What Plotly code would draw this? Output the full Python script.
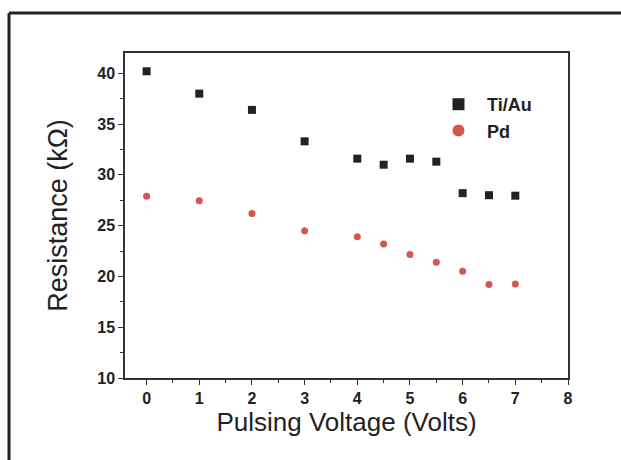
import plotly.graph_objects as go

voltage = [0, 1, 2, 3, 4, 4.5, 5, 5.5, 6, 6.5, 7]
ti_au = [40.2, 38.0, 36.4, 33.3, 31.6, 31.0, 31.6, 31.3, 28.2, 28.0, 27.95]
pd_vals = [27.9, 27.45, 26.2, 24.5, 23.9, 23.2, 22.15, 21.4, 20.5, 19.2, 19.25]

W, H = 621, 460
L, R, T, B = 125, 53, 53, 82
pw, ph = W - L - R, H - T - B

def px(x):
    return (x - L) / pw

def py(y):
    return (H - B - y) / ph

fig = go.Figure()
fig.add_trace(go.Scatter(x=voltage, y=ti_au, mode="markers", name="Ti/Au",
                         marker=dict(symbol="square", size=8, color="#222222")))
fig.add_trace(go.Scatter(x=voltage, y=pd_vals, mode="markers", name="Pd",
                         marker=dict(symbol="circle", size=7, color="#d4574d")))

tickfont = dict(family="Liberation Sans, Arial", size=16, color="#222222", weight="bold")
axis_common = dict(showline=True, linecolor="#333333", linewidth=1.5, mirror=True,
                   ticks="outside", ticklen=5, tickwidth=1.3, tickcolor="#333333",
                   showgrid=False, zeroline=False, tickfont=tickfont)

fig.update_layout(
    width=W, height=H,
    margin=dict(l=L, r=R, t=T, b=B),
    paper_bgcolor="white", plot_bgcolor="white",
    xaxis=dict(range=[-0.41, 8.0], tickmode="array", tickvals=list(range(0, 9)),
               minor=dict(ticks="outside", ticklen=3, tickcolor="#333333", dtick=0.5, tick0=0),
               title=dict(text="Pulsing Voltage (Volts)", standoff=2,
                          font=dict(family="Liberation Sans, Arial", size=26, color="#222222")),
               **axis_common),
    yaxis=dict(range=[10, 42], tickmode="array", tickvals=[10, 15, 20, 25, 30, 35, 40],
               minor=dict(ticks="outside", ticklen=3, tickcolor="#333333", dtick=2.5, tick0=10),
               title=dict(text="Resistance (kΩ)", standoff=22,
                          font=dict(family="Liberation Sans, Arial", size=27, color="#222222")),
               **axis_common),
    showlegend=True,
    legend=dict(x=px(430), y=py(86), xanchor="left", yanchor="top",
                bgcolor="rgba(0,0,0,0)", borderwidth=0,
                font=dict(family="Liberation Sans, Arial", size=18, color="#222222", weight="bold"),
                itemsizing="constant", itemwidth=47, tracegroupgap=0),
    shapes=[
        dict(type="line", xref="paper", yref="paper", x0=px(9), x1=px(W + 5), y0=py(13), y1=py(13),
             line=dict(color="#222222", width=3)),
        dict(type="line", xref="paper", yref="paper", x0=px(9), x1=px(9), y0=py(13), y1=py(H + 5),
             line=dict(color="#222222", width=3)),
    ],
)

fig.write_html("out.html")
